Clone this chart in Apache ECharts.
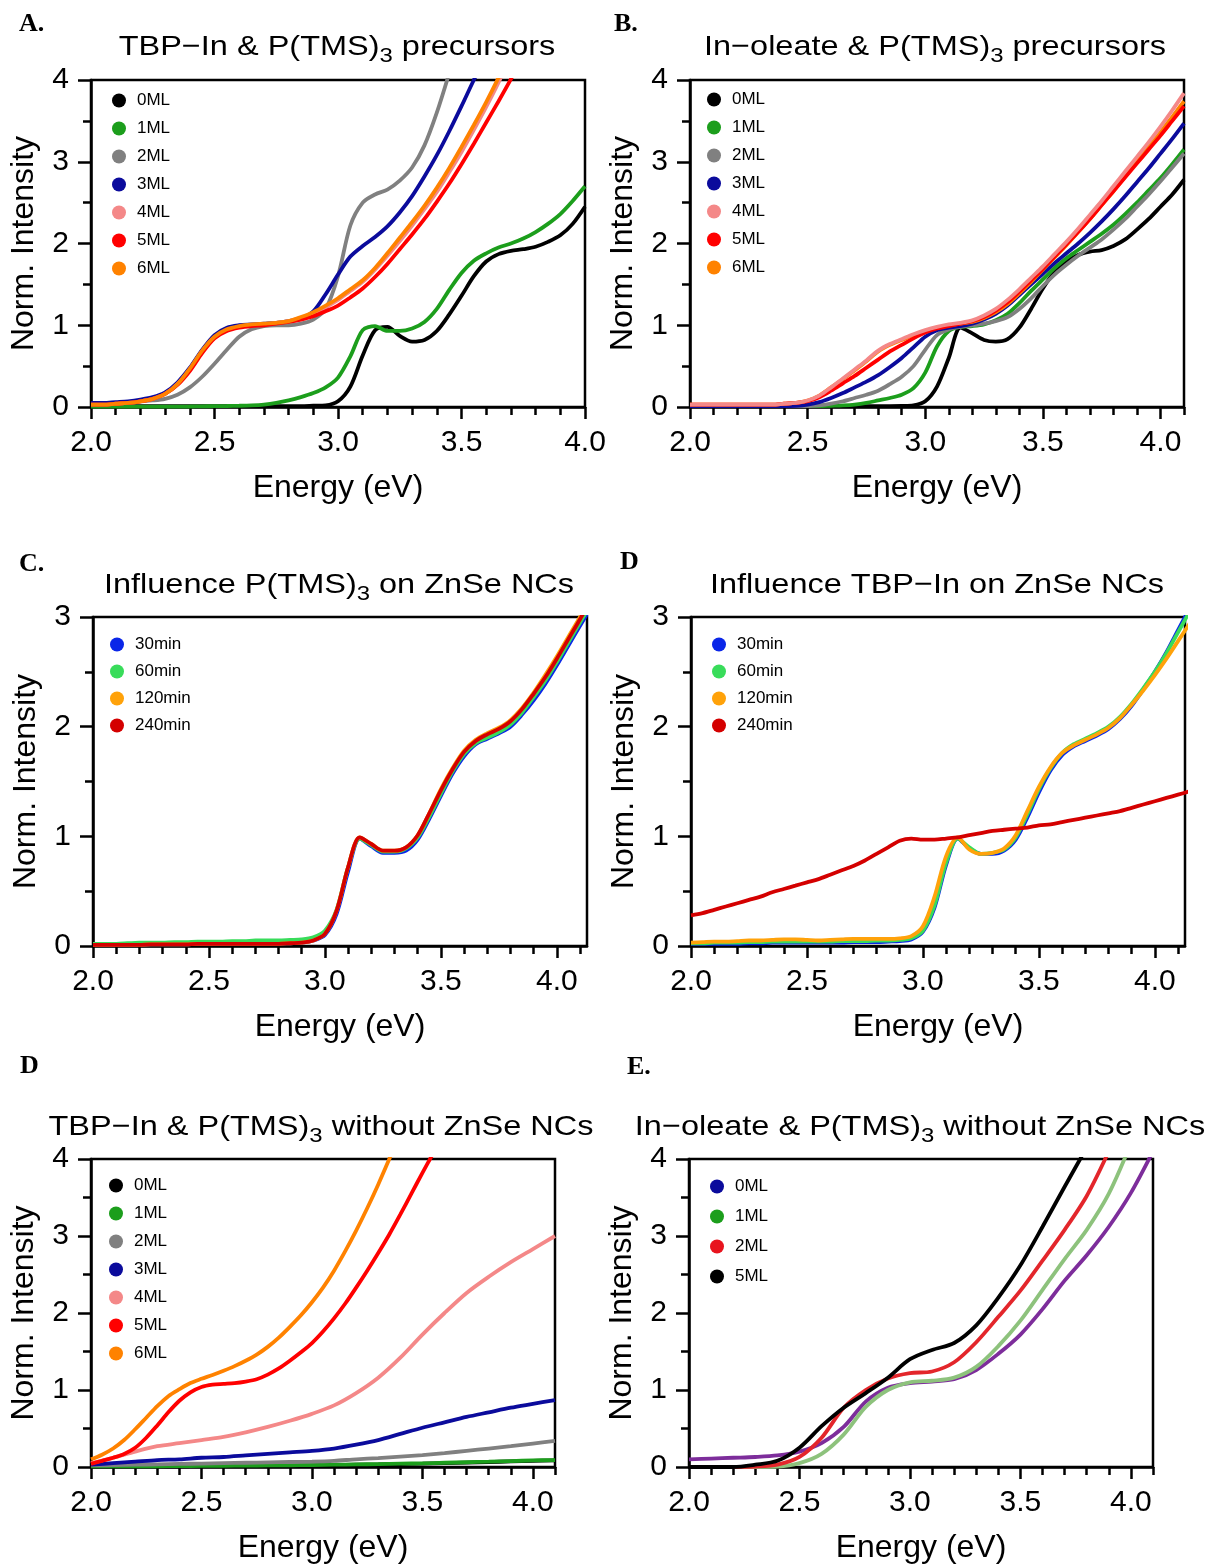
<!DOCTYPE html>
<html>
<head>
<meta charset="utf-8">
<script src="https://cdn.jsdelivr.net/npm/echarts@6/dist/echarts.min.js"></script>
<style>
html,body{margin:0;padding:0;background:#fff;}
#chart{width:1205px;height:1566px;}
</style>
</head>
<body>
<div id="chart"></div>
<script>
// ---------------- tick values ----------------
const X_MAJOR = [2.0, 2.5, 3.0, 3.5, 4.0];
const X_MINOR_40 = [2.0,2.1,2.2,2.3,2.4,2.5,2.6,2.7,2.8,2.9,3.0,3.1,3.2,3.3,3.4,3.5,3.6,3.7,3.8,3.9,4.0];
const X_MINOR_41 = [2.0,2.1,2.2,2.3,2.4,2.5,2.6,2.7,2.8,2.9,3.0,3.1,3.2,3.3,3.4,3.5,3.6,3.7,3.8,3.9,4.0,4.1];

// ---------------- energy grids ----------------
const E_A = [2.00,2.05,2.10,2.15,2.20,2.25,2.30,2.35,2.40,2.45,2.50,2.55,2.60,2.65,2.70,2.75,2.80,2.85,2.90,2.95,3.00,3.05,3.10,3.15,3.20,3.25,3.30,3.35,3.40,3.45,3.50,3.55,3.60,3.65,3.70,3.75,3.80,3.85,3.90,3.95,4.00];
const E_FINE = [2.00,2.05,2.10,2.15,2.20,2.25,2.30,2.35,2.40,2.45,2.50,2.55,2.60,2.65,2.70,2.75,2.80,2.85,2.90,2.95,3.00,3.05,3.10,3.15,3.20,3.25,3.30,3.35,3.40,3.45,3.50,3.55,3.60,3.65,3.70,3.75,3.80,3.85,3.90,3.95,4.00,4.05,4.10];
const E_CD = [2.00,2.05,2.10,2.15,2.20,2.25,2.30,2.35,2.40,2.45,2.50,2.55,2.60,2.65,2.70,2.75,2.80,2.85,2.90,2.95,3.00,3.05,3.10,3.15,3.20,3.25,3.30,3.35,3.40,3.45,3.50,3.55,3.60,3.65,3.70,3.75,3.80,3.85,3.90,3.95,4.00,4.05,4.10,4.15];
const E_LOW = [2.0,2.1,2.2,2.3,2.4,2.5,2.6,2.7,2.8,2.9,3.0,3.1,3.2,3.3,3.4,3.5,3.6,3.7,3.8,3.9,4.0,4.1];

// ---------------- Panel A: TBP-In & P(TMS)3 precursors ----------------
const A_0ML = [0.01,0.01,0.01,0.01,0.01,0.01,0.01,0.01,0.01,0.01, 0.01,0.01,0.01,0.01,0.01,0.01,0.01,0.01,0.015,0.02, 0.07,0.25,0.63,0.94,0.98,0.87,0.8,0.82,0.93,1.13, 1.36,1.6,1.78,1.87,1.91,1.93,1.96,2.02,2.1,2.24, 2.45];
const A_1ML = [0.005,0.005,0.005,0.005,0.005,0.005,0.005,0.005,0.006,0.008, 0.01,0.012,0.015,0.02,0.03,0.05,0.08,0.12,0.17,0.24, 0.36,0.62,0.94,0.99,0.93,0.93,0.96,1.04,1.2,1.43, 1.64,1.79,1.88,1.95,2.0,2.06,2.14,2.24,2.36,2.52, 2.7];
const A_2ML = [0.05,0.05,0.05,0.06,0.07,0.08,0.1,0.15,0.24,0.37, 0.53,0.7,0.86,0.95,0.99,1.0,1.0,1.02,1.07,1.2, 1.6,2.22,2.5,2.6,2.66,2.77,2.93,3.2,3.6,4.08, null,null,null,null,null,null,null,null,null,null, null];
const A_3ML = [0.05,0.05,0.06,0.07,0.09,0.12,0.18,0.3,0.48,0.7, 0.88,0.97,1.0,1.01,1.02,1.03,1.05,1.08,1.17,1.38, 1.62,1.84,1.97,2.08,2.21,2.38,2.58,2.82,3.08,3.37, 3.68,4.0,4.3,null,null,null,null,null,null,null, null];
const A_4ML = [0.03,0.03,0.04,0.05,0.07,0.1,0.16,0.28,0.46,0.68, 0.85,0.94,0.98,1.0,1.01,1.03,1.05,1.09,1.14,1.22, 1.31,1.42,1.53,1.68,1.85,2.03,2.22,2.42,2.63,2.87, 3.12,3.39,3.67,3.97,4.3,null,null,null,null,null, null];
const A_5ML = [0.03,0.03,0.04,0.05,0.07,0.1,0.16,0.27,0.44,0.66, 0.84,0.93,0.97,0.99,1.0,1.02,1.04,1.07,1.11,1.17, 1.24,1.34,1.45,1.59,1.75,1.93,2.11,2.3,2.51,2.73, 2.97,3.22,3.48,3.74,4.01,4.3,null,null,null,null, null];
const A_6ML = [0.03,0.03,0.04,0.05,0.07,0.1,0.16,0.28,0.47,0.69, 0.86,0.95,0.99,1.01,1.02,1.03,1.05,1.1,1.16,1.24, 1.33,1.44,1.55,1.7,1.88,2.07,2.26,2.46,2.68,2.92, 3.18,3.45,3.73,4.03,4.35,null,null,null,null,null, null];

// ---------------- Panel B: In-oleate & P(TMS)3 precursors ----------------
const B_0ML = [0.01,0.01,0.01,0.01,0.01,0.01,0.01,0.01,0.01,0.01, 0.01,0.01,0.01,0.01,0.01,0.01,0.01,0.01,0.012,0.02, 0.07,0.25,0.6,0.97,0.9,0.82,0.8,0.83,0.97,1.2, 1.45,1.65,1.78,1.86,1.9,1.92,1.97,2.05,2.17,2.3, 2.45,2.6,2.78];
const B_1ML = [0.01,0.01,0.01,0.01,0.01,0.01,0.01,0.01,0.01,0.01, 0.01,0.01,0.015,0.02,0.03,0.05,0.08,0.11,0.15,0.23, 0.42,0.74,0.93,0.98,0.99,1.01,1.06,1.14,1.27,1.42, 1.56,1.7,1.82,1.92,2.02,2.12,2.23,2.36,2.5,2.65, 2.8,2.97,3.15];
const B_2ML = [0.01,0.01,0.01,0.01,0.01,0.01,0.01,0.01,0.01,0.01, 0.01,0.02,0.04,0.07,0.11,0.15,0.2,0.28,0.37,0.5, 0.7,0.88,0.95,0.98,1.0,1.02,1.05,1.1,1.2,1.33, 1.48,1.62,1.74,1.85,1.95,2.05,2.17,2.3,2.45,2.6, 2.76,2.93,3.1];
const B_3ML = [0.01,0.01,0.01,0.01,0.01,0.01,0.01,0.01,0.01,0.015, 0.03,0.06,0.11,0.17,0.24,0.31,0.39,0.49,0.6,0.73, 0.86,0.94,0.97,0.99,1.02,1.07,1.14,1.24,1.37,1.5, 1.63,1.76,1.88,2.0,2.13,2.27,2.42,2.58,2.75,2.92, 3.1,3.28,3.47];
const B_4ML = [0.03,0.03,0.03,0.03,0.03,0.03,0.03,0.03,0.04,0.05, 0.08,0.14,0.24,0.35,0.46,0.57,0.69,0.77,0.83,0.89, 0.94,0.98,1.01,1.03,1.06,1.12,1.2,1.31,1.44,1.58, 1.72,1.87,2.02,2.18,2.35,2.52,2.7,2.88,3.06,3.24, 3.43,3.63,3.84];
const B_5ML = [0.03,0.03,0.03,0.03,0.03,0.03,0.03,0.03,0.04,0.05, 0.07,0.12,0.2,0.29,0.38,0.48,0.58,0.68,0.76,0.84, 0.91,0.96,0.99,1.02,1.05,1.1,1.18,1.28,1.41,1.55, 1.69,1.84,1.99,2.14,2.3,2.47,2.64,2.81,2.98,3.15, 3.32,3.5,3.68];
const B_6ML = [0.03,0.03,0.03,0.03,0.03,0.03,0.03,0.03,0.04,0.05, 0.08,0.14,0.24,0.34,0.45,0.56,0.68,0.76,0.82,0.88, 0.93,0.97,1.0,1.02,1.04,1.09,1.16,1.26,1.39,1.53, 1.68,1.83,1.98,2.14,2.3,2.47,2.64,2.82,3.0,3.18, 3.36,3.55,3.74];

// ---------------- Panel C: Influence P(TMS)3 on ZnSe NCs ----------------
const C_30 = [0.01,0.01,0.01,0.01,0.01,0.015,0.015,0.015,0.015,0.02, 0.02,0.02,0.02,0.02,0.02,0.02,0.02,0.025,0.03,0.05, 0.1,0.29,0.68,0.98,0.91,0.85,0.85,0.87,0.97,1.16, 1.37,1.57,1.73,1.84,1.89,1.94,2.0,2.11,2.24,2.39, 2.56,2.74,2.92,3.1];
const C_60 = [0.02,0.02,0.02,0.025,0.03,0.03,0.03,0.035,0.035,0.04, 0.04,0.04,0.045,0.045,0.05,0.05,0.05,0.055,0.06,0.08, 0.14,0.33,0.72,0.98,0.92,0.86,0.86,0.89,0.99,1.18, 1.39,1.59,1.75,1.85,1.9,1.95,2.02,2.13,2.27,2.42, 2.59,2.77,2.95,3.13];
const C_120 = [0.01,0.01,0.01,0.01,0.01,0.015,0.015,0.015,0.015,0.02, 0.02,0.02,0.02,0.02,0.02,0.02,0.02,0.025,0.03,0.05, 0.11,0.32,0.72,0.99,0.93,0.87,0.87,0.9,1.01,1.21, 1.43,1.62,1.78,1.88,1.94,1.99,2.06,2.17,2.31,2.47, 2.64,2.82,3.0,3.19];
const C_240 = [0.01,0.01,0.01,0.01,0.01,0.015,0.015,0.015,0.015,0.02, 0.02,0.02,0.02,0.02,0.02,0.02,0.02,0.025,0.03,0.05, 0.11,0.32,0.72,0.99,0.93,0.87,0.87,0.9,1.01,1.21, 1.42,1.61,1.77,1.87,1.93,1.98,2.05,2.16,2.3,2.45, 2.62,2.8,2.98,3.17];

// ---------------- Panel D: Influence TBP-In on ZnSe NCs ----------------
const D_30 = [0.02,0.02,0.02,0.02,0.02,0.025,0.025,0.03,0.03,0.03, 0.03,0.03,0.03,0.03,0.035,0.035,0.035,0.04,0.045,0.06, 0.13,0.35,0.74,0.98,0.89,0.84,0.84,0.87,0.97,1.17, 1.4,1.6,1.74,1.82,1.87,1.92,1.98,2.07,2.19,2.34, 2.5,2.68,2.88,3.08];
const D_60 = [0.025,0.025,0.03,0.03,0.03,0.035,0.035,0.04,0.04,0.04, 0.04,0.04,0.04,0.045,0.045,0.045,0.05,0.05,0.055,0.07, 0.14,0.37,0.76,0.98,0.9,0.84,0.85,0.88,0.99,1.2, 1.43,1.62,1.76,1.84,1.89,1.94,2.0,2.09,2.21,2.35, 2.5,2.67,2.86,3.05];
const D_120 = [0.03,0.035,0.04,0.04,0.045,0.05,0.05,0.055,0.06,0.06, 0.055,0.05,0.055,0.06,0.065,0.065,0.065,0.065,0.07,0.09, 0.18,0.45,0.82,0.99,0.88,0.84,0.85,0.89,1.01,1.23, 1.45,1.63,1.76,1.83,1.88,1.93,1.99,2.08,2.2,2.33, 2.47,2.62,2.78,2.94];
const D_240 = [0.28,0.3,0.33,0.36,0.39,0.42,0.45,0.49,0.52,0.55, 0.58,0.61,0.65,0.69,0.73,0.78,0.84,0.9,0.96,0.98, 0.97,0.97,0.98,0.99,1.01,1.03,1.05,1.06,1.07,1.08, 1.1,1.11,1.13,1.15,1.17,1.19,1.21,1.23,1.26,1.29, 1.32,1.35,1.38,1.41];

// ---------------- Panel E (bottom left): TBP-In & P(TMS)3 without ZnSe NCs ----------------
const E_0ML = [0.008,0.008,0.008,0.009,0.01,0.011,0.013,0.015,0.017,0.019,0.021,0.025,0.029,0.033,0.038,0.043,0.05,0.057,0.064,0.072,0.08,0.085];
const E_1ML = [0.01,0.01,0.01,0.01,0.012,0.014,0.016,0.018,0.02,0.022,0.025,0.03,0.034,0.038,0.043,0.048,0.055,0.062,0.069,0.077,0.085,0.09];
const E_2ML = [0.02,0.025,0.03,0.035,0.04,0.045,0.05,0.055,0.06,0.065,0.07,0.08,0.1,0.115,0.135,0.155,0.18,0.21,0.24,0.27,0.305,0.34];
const E_3ML = [0.03,0.05,0.07,0.09,0.1,0.12,0.13,0.15,0.17,0.19,0.21,0.24,0.29,0.35,0.43,0.51,0.58,0.65,0.71,0.77,0.82,0.87];
const E_4ML = [0.05,0.12,0.2,0.27,0.31,0.35,0.39,0.45,0.52,0.6,0.69,0.8,0.96,1.16,1.42,1.72,2.0,2.26,2.47,2.66,2.83,3.0];
const E_5ML = [0.04,0.08,0.12,0.17,0.25,0.38,0.54,0.71,0.86,0.97, 1.04,1.07,1.08,1.09,1.11,1.14,1.2,1.28,1.38,1.49, 1.61,1.76,1.93,2.12,2.33,2.55,2.78,3.02,3.28,3.55, 3.82,4.08,null,null,null,null,null,null,null,null, null,null,null];
const E_6ML = [0.1,0.16,0.24,0.35,0.49,0.64,0.79,0.92,1.01,1.09, 1.145,1.195,1.25,1.31,1.38,1.46,1.56,1.68,1.82,1.97, 2.14,2.33,2.55,2.8,3.07,3.36,3.67,4.0,4.33,null, null,null,null,null,null,null,null,null,null,null, null,null,null];

// ---------------- Panel F (bottom right): In-oleate & P(TMS)3 without ZnSe NCs ----------------
const F_0ML = [0.1,0.11,0.12,0.13,0.15,0.2,0.31,0.52,0.85,1.03,1.09,1.11,1.14,1.26,1.47,1.72,2.05,2.42,2.75,3.12,3.56,4.1];
const F_1ML = [0.0,0.0,0.0,0.0,0.005,0.05,0.17,0.42,0.78,1.0,1.1,1.12,1.16,1.3,1.57,1.9,2.3,2.7,3.08,3.55,4.2,null];
const F_2ML = [0.0,0.0,0.0,0.005,0.03,0.13,0.38,0.77,1.0,1.15,1.22,1.24,1.36,1.62,1.95,2.29,2.68,3.08,3.52,4.1,null,null];
const F_5ML = [0.0,0.0,0.0,0.03,0.08,0.25,0.53,0.77,0.96,1.16,1.4,1.52,1.61,1.84,2.2,2.62,3.12,3.64,4.15,null,null,null];

// ---------------- styles ----------------
const FONT = '"Liberation Sans", Arial, sans-serif';
const SERIF = '"Liberation Serif", "Times New Roman", serif';
const ML = {'0ML':'#000000','1ML':'#1c9e1c','2ML':'#808080','3ML':'#0b0b9c','4ML':'#f48888','5ML':'#ff0000','6ML':'#ff8200'};
const TM = {'30min':'#0a26e8','60min':'#38dc5a','120min':'#ffa20a','240min':'#d40000'};

function S(name, xs, ys, line, legendColor) {
  return {name: name, x: xs, y: ys, line: line, legend: legendColor || line};
}

const PANELS = [
  { grid:{left:91, top:80, width:494, height:327}, xMax:4.0, minor:X_MINOR_40, yMax:4,
    title:{x:337, y:47, parts:['TBP\u2212In & P(TMS)','3',' precursors']}, label:{text:'A.', x:19, y:11},
    legend:{left:112, top:92, gap:11},
    series:[S('0ML',E_A,A_0ML,ML['0ML']),S('1ML',E_A,A_1ML,ML['1ML']),S('2ML',E_A,A_2ML,ML['2ML']),S('3ML',E_A,A_3ML,ML['3ML']),S('4ML',E_A,A_4ML,ML['4ML']),S('5ML',E_A,A_5ML,ML['5ML']),S('6ML',E_A,A_6ML,ML['6ML'])] },
  { grid:{left:690, top:80, width:494, height:327}, xMax:4.1, minor:X_MINOR_41, yMax:4,
    title:{x:935, y:47, parts:['In\u2212oleate & P(TMS)','3',' precursors']}, label:{text:'B.', x:614, y:11},
    legend:{left:707, top:91, gap:11},
    series:[S('0ML',E_FINE,B_0ML,ML['0ML']),S('1ML',E_FINE,B_1ML,ML['1ML']),S('2ML',E_FINE,B_2ML,ML['2ML']),S('3ML',E_FINE,B_3ML,ML['3ML']),S('6ML',E_FINE,B_6ML,ML['6ML']),S('5ML',E_FINE,B_5ML,ML['5ML']),S('4ML',E_FINE,B_4ML,ML['4ML'])],
    legendOrder:['0ML','1ML','2ML','3ML','4ML','5ML','6ML'] },
  { grid:{left:93, top:617, width:494, height:329}, xMax:4.13, minor:X_MINOR_41, yMax:3,
    title:{x:339, y:585, parts:['Influence P(TMS)','3',' on ZnSe NCs']}, label:{text:'C.', x:19, y:551},
    legend:{left:110, top:636, gap:10},
    series:[S('30min',E_CD,C_30,TM['30min']),S('60min',E_CD,C_60,TM['60min']),S('120min',E_CD,C_120,TM['120min']),S('240min',E_CD,C_240,TM['240min'])] },
  { grid:{left:691, top:617, width:494, height:329}, xMax:4.13, minor:X_MINOR_41, yMax:3,
    title:{x:937, y:585, parts:['Influence TBP\u2212In on ZnSe NCs','','']}, label:{text:'D', x:620, y:549},
    legend:{left:712, top:636, gap:10},
    series:[S('30min',E_CD,D_30,TM['30min']),S('60min',E_CD,D_60,TM['60min']),S('120min',E_CD,D_120,TM['120min']),S('240min',E_CD,D_240,TM['240min'])] },
  { grid:{left:91, top:1159, width:464, height:308}, xMax:4.1, minor:X_MINOR_41, yMax:4,
    title:{x:321, y:1127, parts:['TBP\u2212In & P(TMS)','3',' without ZnSe NCs']}, label:{text:'D', x:20, y:1053},
    legend:{left:109, top:1177, gap:11},
    series:[S('0ML',E_LOW,E_0ML,ML['0ML']),S('1ML',E_LOW,E_1ML,ML['1ML']),S('2ML',E_LOW,E_2ML,ML['2ML']),S('3ML',E_LOW,E_3ML,ML['3ML']),S('4ML',E_LOW,E_4ML,ML['4ML']),S('5ML',E_FINE,E_5ML,ML['5ML']),S('6ML',E_FINE,E_6ML,ML['6ML'])] },
  { grid:{left:689, top:1159, width:464, height:308}, xMax:4.1, minor:X_MINOR_41, yMax:4,
    title:{x:920, y:1127, parts:['In\u2212oleate & P(TMS)','3',' without ZnSe NCs']}, label:{text:'E.', x:627, y:1054},
    legend:{left:710, top:1178, gap:13},
    series:[S('0ML',E_LOW,F_0ML,'#7d2d9b','#0b0b9c'),S('1ML',E_LOW,F_1ML,'#8dc27c','#1c9e1c'),S('2ML',E_LOW,F_2ML,'#e3262b','#e8141e'),S('5ML',E_LOW,F_5ML,'#000000','#000000')] }
];

function zip(xs, ys) { return xs.map(function (x, i) { return [x, ys[i]]; }); }

const option = { animation:false, backgroundColor:'#ffffff', grid:[], xAxis:[], yAxis:[], series:[], legend:[], graphic:[] };
const AX_LINE = {color:'#000', width:2.5};

PANELS.forEach(function (p, gi) {
  option.grid.push({left:p.grid.left, top:p.grid.top, width:p.grid.width, height:p.grid.height,
    show:true, borderColor:'#000', borderWidth:2.5, backgroundColor:'transparent', containLabel:false});
  const xi = option.xAxis.length;
  option.xAxis.push({
    gridIndex:gi, type:'value', position:'bottom', min:2, max:p.xMax,
    axisLine:{show:true, onZero:false, lineStyle:AX_LINE},
    axisTick:{show:true, length:12, lineStyle:AX_LINE, customValues:X_MAJOR},
    axisLabel:{show:true, customValues:X_MAJOR, margin:21, fontSize:30, fontFamily:FONT, color:'#000',
      formatter:function (v) { return Number(v).toFixed(1); }},
    splitLine:{show:false}, minorTick:{show:false},
    name:'Energy (eV)', nameLocation:'middle', nameGap:65,
    nameTextStyle:{fontSize:32, fontFamily:FONT, color:'#000'}
  });
  option.xAxis.push({
    gridIndex:gi, type:'value', position:'bottom', min:2, max:p.xMax, silent:true,
    axisLine:{show:false, onZero:false},
    axisTick:{show:true, length:8, lineStyle:AX_LINE, customValues:p.minor},
    axisLabel:{show:false}, splitLine:{show:false}
  });
  option.yAxis.push({
    gridIndex:gi, type:'value', position:'left', min:0, max:p.yMax, interval:1,
    axisLine:{show:true, onZero:false, lineStyle:AX_LINE},
    axisTick:{show:true, length:13, lineStyle:AX_LINE},
    minorTick:{show:true, splitNumber:2, length:8, lineStyle:AX_LINE},
    axisLabel:{margin:22, fontSize:30, fontFamily:FONT, color:'#000',
      formatter:function (v) { return String(Math.round(v)); }},
    splitLine:{show:false}, minorSplitLine:{show:false},
    name:'Norm. Intensity', nameLocation:'middle', nameGap:51,
    nameTextStyle:{fontSize:32, fontFamily:FONT, color:'#000'}
  });
  p.series.forEach(function (s, k) {
    option.series.push({
      type:'line', name:s.name, xAxisIndex:xi, yAxisIndex:gi,
      data:zip(s.x, s.y), showSymbol:false, symbol:'none', smooth:0.3, clip:true,
      connectNulls:false, z:2 + k * 0.01,
      lineStyle:{color:s.line, width:3.8}, itemStyle:{color:s.legend},
      emphasis:{disabled:true}
    });
  });
  const order = p.legendOrder || p.series.map(function (s) { return s.name; });
  const colorOf = {};
  p.series.forEach(function (s) { colorOf[s.name] = s.legend; });
  option.legend.push({
    orient:'vertical', left:p.legend.left, top:p.legend.top, icon:'circle',
    itemWidth:26, itemHeight:14, itemGap:p.legend.gap, selectedMode:false, padding:0,
    textStyle:{fontSize:17, fontFamily:FONT, color:'#000'},
    data: order.map(function (n) { return {name:n, itemStyle:{color:colorOf[n], borderWidth:0}}; })
  });
  const tp = p.title.parts;
  const txt = '{a|' + tp[0] + '}' + (tp[1] ? '{s|' + tp[1] + '}' : '') + (tp[2] ? '{a|' + tp[2] + '}' : '');
  option.graphic.push({
    type:'text', x:p.title.x, y:p.title.y, scaleX:1.14, z:100,
    style:{text:txt, align:'center', verticalAlign:'middle',
      rich:{a:{fontSize:28.5, fontFamily:FONT, fill:'#000'},
            s:{fontSize:21, fontFamily:FONT, fill:'#000', padding:[19,0,0,0]}}}
  });
  option.graphic.push({
    type:'text', x:p.label.x, y:p.label.y, z:100,
    style:{text:p.label.text, fontSize:26, fontWeight:'bold', fontFamily:SERIF, fill:'#000', align:'left', verticalAlign:'top'}
  });
});

const chart = echarts.init(document.getElementById('chart'), null, {renderer:'canvas', width:1205, height:1566});
chart.setOption(option);
</script>
</body>
</html>
